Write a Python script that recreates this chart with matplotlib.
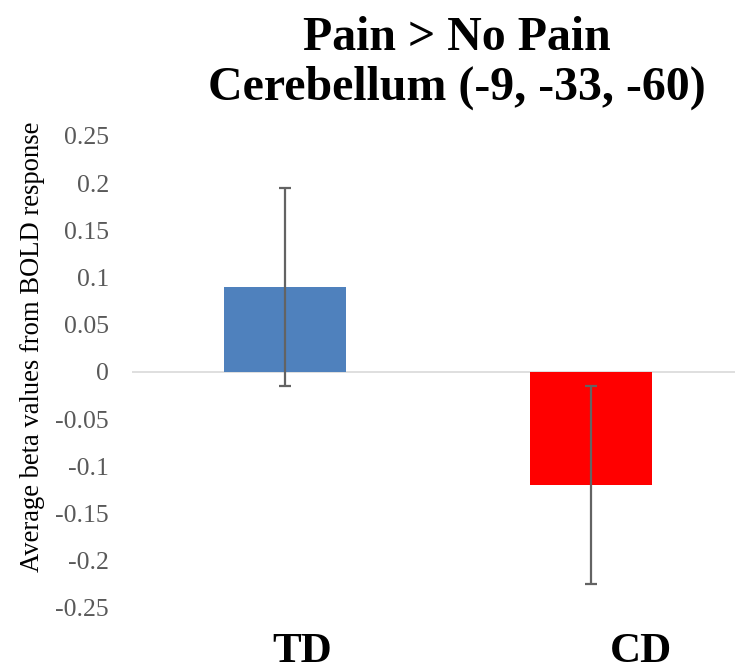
import matplotlib
matplotlib.use("Agg")
import matplotlib.pyplot as plt
import numpy as np

categories = ["TD", "CD"]
values = [0.09, -0.12]
errors = [0.105, 0.105]
colors = ["#4F81BD", "#FF0000"]
yticks = [0.25, 0.2, 0.15, 0.1, 0.05, 0, -0.05, -0.1, -0.15, -0.2, -0.25]
ytick_labels = ["0.25", "0.2", "0.15", "0.1", "0.05", "0", "-0.05", "-0.1", "-0.15", "-0.2", "-0.25"]
title_lines = ["Pain > No Pain", "Cerebellum (-9, -33, -60)"]

W, H = 735, 671
fig = plt.figure(figsize=(W / 100, H / 100), dpi=100)
left, right, top, bottom = 132, 735, 136, 608
ax = fig.add_axes([left / W, 1 - bottom / H, (right - left) / W, (bottom - top) / H])

x = np.arange(len(categories))
ax.axhline(0, color="#D9D9D9", lw=1.2, zorder=1)
ax.bar(x, values, width=0.4, color=colors, zorder=2)
ax.errorbar(x, values, yerr=errors, fmt="none", ecolor="#636363",
            elinewidth=1.6, capsize=4.3, capthick=1.6, zorder=3)

ax.set_xlim(-0.5, 1.47)
ax.set_ylim(-0.25, 0.25)
ax.set_yticks(yticks)
ax.set_yticklabels(ytick_labels, fontfamily="Liberation Serif", fontsize=18.5, color="#595959")
ax.tick_params(axis="y", length=0, pad=16.5)
label_offsets = [0.057, 1.163]
ax.set_xticks(label_offsets)
ax.set_xticklabels(categories, fontfamily="Liberation Serif", fontsize=31, fontweight="bold")
ax.tick_params(axis="x", length=0, pad=18)
for s in ax.spines.values():
    s.set_visible(False)

ax.set_ylabel("Average beta values from BOLD response", fontfamily="Liberation Serif",
              fontsize=19.2, color="black")
ax.yaxis.set_label_coords((33 - left) / (right - left), (bottom - 347) / (bottom - top))
ax.yaxis.label.set_va("center")

for line, base in zip(title_lines, [50, 100]):
    fig.text(457 / W, 1 - base / H, line, ha="center", va="baseline",
             fontfamily="Liberation Serif", fontsize=34.5, fontweight="bold")

fig.savefig("out.png", dpi=100)
